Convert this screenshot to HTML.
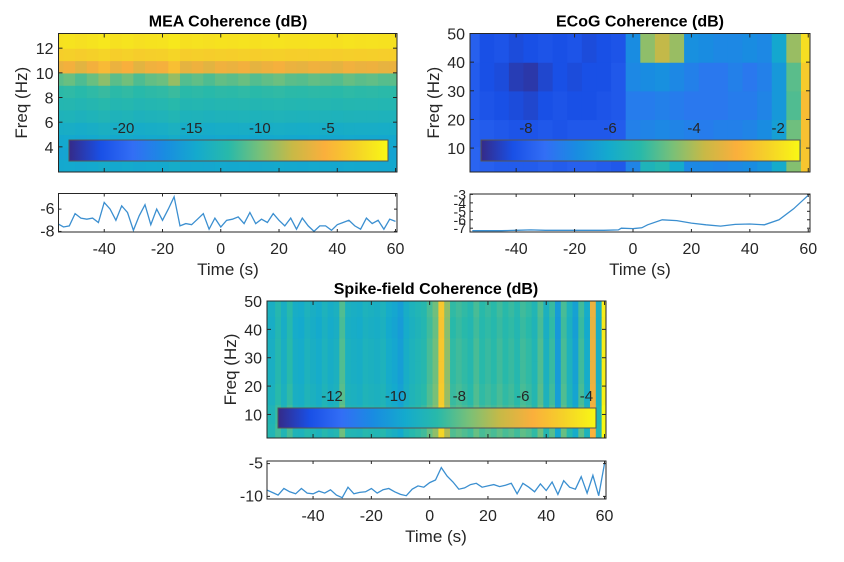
<!DOCTYPE html>
<html><head><meta charset="utf-8"><style>
html,body{margin:0;padding:0;background:#fff;}
svg{display:block;font-family:"Liberation Sans",sans-serif;}
</style></head><body>
<svg id="fig" width="844" height="562" viewBox="0 0 844 562" xmlns="http://www.w3.org/2000/svg">
<defs></defs>
</svg>
<script>
// ---------- DATA ----------
const meaFreqs = [2.5,3.5,4.5,5.5,6.5,7.5,8.5,9.5,10.5,11.5,12.5];
const meaRowDb = [-14.8,-15.2,-14.8,-14.2,-13.4,-12.8,-12.2,-10.8,-6.0,-3.2,-2.0];
const meaColTimes = [-56,-52,-48,-44,-40,-36,-32,-28,-24,-20,-16,-12,-8,-4,0,4,8,12,16,20,24,28,32,36,40,44,48,52,56,60];
const meaColDb = [0,0.5,-0.5,0.5,1.8,0,0.8,-0.5,0.3,0.6,2.2,-0.3,0.2,-0.5,0.3,0,0.5,-0.3,0.2,0.6,0,-0.2,0.3,0,-0.3,0.4,0,0.2,-0.2,0];
const meaLineTimes = [-56,-54,-52,-50,-48,-46,-44,-42,-40,-38,-36,-34,-32,-30,-28,-26,-24,-22,-20,-18,-16,-14,-12,-10,-8,-6,-4,-2,0,2,4,6,8,10,12,14,16,18,20,22,24,26,28,30,32,34,36,38,40,42,44,46,48,50,52,54,56,58,60];
const meaLineDb = [-7.3,-7.6,-7.5,-6.4,-6.8,-6.9,-6.8,-7.2,-5.4,-6.0,-7.0,-5.7,-6.3,-7.9,-6.6,-5.6,-7.4,-6.0,-7.0,-6.0,-4.9,-7.5,-7.3,-7.4,-6.9,-6.4,-7.8,-6.8,-7.6,-7.0,-6.9,-6.7,-7.3,-6.3,-7.3,-6.9,-7.2,-6.4,-7.0,-7.5,-6.8,-7.8,-6.8,-7.5,-8.0,-7.5,-7.5,-7.9,-7.4,-7.2,-7.0,-7.5,-7.8,-6.8,-7.3,-7.0,-7.8,-6.9,-7.1];

const ecogFreqs = [6,15,25,35,45];
const ecogTimes = [-55,-50,-45,-40,-35,-30,-25,-20,-15,-10,-5,0,5,10,15,20,25,30,35,40,45,50,55,60];
const ecogDb = [
 [-7.8,-7.9,-8.0,-8.0,-8.0,-7.9,-8.0,-7.9,-7.9,-8.0,-8.1,-7.0,-5.6,-5.4,-6.0,-6.9,-6.9,-7.0,-6.9,-6.8,-6.6,-6.0,-4.4,-2.5],
 [-7.9,-8.0,-8.1,-8.2,-8.2,-8.1,-8.2,-8.1,-8.1,-8.1,-8.0,-7.1,-7.0,-6.9,-7.0,-7.1,-7.2,-7.1,-7.1,-7.0,-6.8,-6.3,-4.6,-2.6],
 [-8.0,-8.2,-8.3,-8.4,-8.5,-8.3,-8.2,-8.3,-8.3,-8.2,-8.1,-7.2,-7.2,-7.1,-7.2,-7.3,-7.3,-7.3,-7.2,-7.2,-7.0,-6.5,-4.9,-2.7],
 [-8.0,-8.3,-8.4,-8.7,-8.8,-8.5,-8.3,-8.4,-8.3,-8.3,-8.1,-6.9,-6.8,-6.7,-6.9,-7.1,-7.3,-7.3,-7.1,-7.3,-7.1,-6.5,-4.8,-2.4],
 [-7.9,-8.3,-8.2,-8.4,-8.3,-8.2,-8.3,-8.2,-8.4,-8.3,-8.2,-6.8,-4.3,-3.8,-4.2,-6.7,-6.8,-6.9,-6.9,-6.8,-6.9,-6.1,-4.2,-2.0]];
const ecogLineTimes = [-55,-50,-45,-40,-35,-30,-25,-20,-15,-10,-5,-4,0,3,5,10,15,20,25,30,35,40,45,50,55,60];
const ecogLineDb = [-7.3,-7.3,-7.3,-7.25,-7.2,-7.25,-7.25,-7.25,-7.25,-7.25,-7.2,-7.0,-7.05,-6.95,-6.6,-6.0,-6.1,-6.4,-6.6,-6.75,-6.55,-6.5,-6.6,-6.0,-4.7,-3.1];

const sfcFreqs = [4,10,17,25,33,41,48];
const sfcRowDb = [0.4,0.3,0.1,0,0,-0.1,0];
const sfcColTimes = [-56,-54,-52,-50,-48,-46,-44,-42,-40,-38,-36,-34,-32,-30,-28,-26,-24,-22,-20,-18,-16,-14,-12,-10,-8,-6,-4,-2,0,2,4,6,8,10,12,14,16,18,20,22,24,26,28,30,32,34,36,38,40,42,44,46,48,50,52,54,56,58,60];
const sfcColDb = [-9.2,-9.4,-8.8,-9.4,-8.7,-9.5,-9.6,-9.2,-9.4,-9.6,-9.2,-9.5,-9.3,-8.2,-9.3,-9.4,-9.5,-9.2,-9.3,-9.4,-9.2,-9.6,-9.8,-10.1,-9.5,-9.2,-9.0,-8.8,-8.3,-7.8,-5.0,-7.4,-8.6,-8.4,-8.6,-8.8,-8.3,-8.7,-8.5,-8.7,-8.4,-8.7,-8.5,-8.8,-8.4,-8.6,-9.0,-8.2,-9.3,-8.5,-10.2,-8.3,-9.2,-10.0,-8.4,-9.6,-6.0,-9.4,-4.0];
const sfcLineTimes = sfcColTimes;
const sfcLineDb = [-9.0,-9.4,-9.8,-8.8,-9.3,-9.6,-8.8,-9.5,-9.6,-9.2,-9.5,-9.0,-9.8,-10.2,-8.6,-9.6,-9.4,-9.3,-8.8,-9.5,-9.0,-8.8,-9.3,-9.7,-9.9,-8.9,-8.4,-8.6,-7.9,-7.5,-5.6,-6.9,-7.8,-8.9,-8.7,-8.2,-8.0,-8.6,-8.4,-8.2,-8.5,-8.3,-8.0,-9.6,-8.0,-8.6,-9.3,-8.1,-9.1,-7.8,-9.7,-7.6,-8.6,-8.9,-7.0,-9.5,-6.8,-9.9,-5.0];

const timeTicks = [-40,-20,0,20,40,60];

const parula = [[0,53,42,135],[0.1,25,80,230],[0.2,50,110,245],[0.3,25,140,225],[0.4,20,170,205],[0.5,40,185,170],[0.6,120,192,120],[0.7,200,185,70],[0.8,250,175,60],[0.9,245,210,40],[1,248,248,20]];
function cmap(v){v=Math.max(0,Math.min(1,v));for(let i=1;i<parula.length;i++){if(v<=parula[i][0]){const a=parula[i-1],b=parula[i];const f=(v-a[0])/(b[0]-a[0]);return 'rgb('+[1,2,3].map(k=>Math.round(a[k]+(b[k]-a[k])*f)).join(',')+')';}}return 'rgb(248,248,20)';}

const NS='http://www.w3.org/2000/svg';
const fig=document.getElementById('fig');
const defs=fig.querySelector('defs');
function mk(tag,attrs,parent){const e=document.createElementNS(NS,tag);for(const k in attrs)e.setAttribute(k,attrs[k]);(parent||fig).appendChild(e);return e;}
const AX='#262626';

function panel(p){
  const g=mk('g',{});
  
  
  const xs=t=>p.L+(t-p.t0)/(p.t1-p.t0)*(p.R-p.L);
  const ys=f=>p.hB-(f-p.f0)/(p.f1-p.f0)*(p.hB-p.hT);
  const cs=v=>(v-p.c0)/(p.c1-p.c0);
  const cp=mk('clipPath',{id:p.id+'clip'},defs);
  mk('rect',{x:p.L,y:p.hT,width:p.R-p.L,height:p.hB-p.hT},cp);
  const hg=mk('g',{'clip-path':'url(#'+p.id+'clip)'},g);
  
  
  const nC=p.times.length,nR=p.freqs.length;
  for(let r=0;r<nR;r++){
    const fa=r===0?p.f0-1:(p.freqs[r-1]+p.freqs[r])/2, fb=r===nR-1?p.f1+1:(p.freqs[r]+p.freqs[r+1])/2;
    for(let c=0;c<nC;c++){
      const ta=c===0?p.t0-2:(p.times[c-1]+p.times[c])/2, tb=c===nC-1?p.t1+2:(p.times[c]+p.times[c+1])/2;
      const v=p.val(r,c);
      const cell=mk('rect',{x:xs(ta),y:ys(fb),width:xs(tb)-xs(ta)+0.6,height:ys(fa)-ys(fb)+0.6,fill:cmap(cs(v))},hg);
      
      
    }
  }
  const gid=p.id+'grad';
  const lg=mk('linearGradient',{id:gid,x1:0,x2:1,y1:0,y2:0},defs);
  for(let i=0;i<=20;i++)mk('stop',{offset:i/20,'stop-color':cmap(i/20)},lg);
  const cb=mk('rect',{x:p.cbL,y:p.cbT,width:p.cbR-p.cbL,height:p.cbB-p.cbT,fill:'url(#'+gid+')',stroke:'#555','stroke-width':1},g);
  
  
  p.cbTicks.forEach(v=>{
    const x=p.cbL+(v-p.c0)/(p.c1-p.c0)*(p.cbR-p.cbL);
    const t=mk('text',{x:x,y:p.cbT-7,'font-size':15,'text-anchor':'middle',fill:AX},g);t.textContent=v;
    
    
  });
  const box=mk('rect',{x:p.L,y:p.hT,width:p.R-p.L,height:p.hB-p.hT,fill:'none',stroke:AX,'stroke-width':1},g);
  
  
  timeTicks.forEach(t=>{const x=xs(t);mk('line',{x1:x,x2:x,y1:p.hB,y2:p.hB-4,stroke:AX},g);mk('line',{x1:x,x2:x,y1:p.hT,y2:p.hT+4,stroke:AX},g);});
  p.fTicks.forEach(f=>{const y=ys(f);mk('line',{x1:p.L,x2:p.L+4,y1:y,y2:y,stroke:AX},g);mk('line',{x1:p.R,x2:p.R-4,y1:y,y2:y,stroke:AX},g);
    const t=mk('text',{x:p.L-5,y:y+6,'font-size':16,'text-anchor':'end',fill:AX},g);t.textContent=f;
    
    });
  const yl=mk('text',{x:0,y:0,'font-size':17,'text-anchor':'middle',fill:AX,transform:'translate('+p.ylX+','+((p.hT+p.hB)/2)+') rotate(-90)'},g);yl.textContent='Freq (Hz)';
  
  
  const ti=mk('text',{x:p.titleX,y:p.hT-7,'font-size':16,'font-weight':'bold','text-anchor':'middle',fill:'#000'},g);ti.textContent=p.title;
  
  
  const ly=v=>p.lB-(v-p.l0)/(p.l1-p.l0)*(p.lB-p.lT);
  const cp2=mk('clipPath',{id:p.id+'clip2'},defs);
  mk('rect',{x:p.L,y:p.lT-1,width:p.R-p.L,height:p.lB-p.lT+2},cp2);
  const d=p.lTimes.map((t,i)=>(i?'L':'M')+xs(t).toFixed(1)+','+ly(p.lVals[i]).toFixed(1)).join('');
  const pl=mk('path',{d:d,fill:'none',stroke:'#3b8fd0','stroke-width':1.3,'clip-path':'url(#'+p.id+'clip2)'},g);
  
  
  const lb=mk('rect',{x:p.L,y:p.lT,width:p.R-p.L,height:p.lB-p.lT,fill:'none',stroke:AX,'stroke-width':1},g);
  
  
  timeTicks.forEach(t=>{const x=xs(t);mk('line',{x1:x,x2:x,y1:p.lB,y2:p.lB-3,stroke:AX},g);mk('line',{x1:x,x2:x,y1:p.lT,y2:p.lT+3,stroke:AX},g);
    const tx=mk('text',{x:x,y:p.lB+22,'font-size':16,'text-anchor':'middle',fill:AX},g);tx.textContent=t;
    
    });
  p.lTicks.forEach(v=>{const y=ly(v);mk('line',{x1:p.L,x2:p.L+3,y1:y,y2:y,stroke:AX},g);mk('line',{x1:p.R,x2:p.R-3,y1:y,y2:y,stroke:AX},g);
    const tx=mk('text',{x:p.L-4,y:y+5,'font-size':p.lFont||16,'text-anchor':'end',fill:AX},g);tx.textContent=v;
    
    });
  const xl=mk('text',{x:p.titleX,y:p.lB+43,'font-size':17,'text-anchor':'middle',fill:AX},g);xl.textContent='Time (s)';
  
  
}

panel({id:'mea',title:'MEA Coherence (dB)',titleX:228,L:58.5,R:397,hT:33.5,hB:172,t0:-55.7,t1:60.5,f0:1.96,f1:13.19,
  freqs:meaFreqs,times:meaColTimes,val:(r,c)=>meaRowDb[r]+meaColDb[c]*(r>=7&&r<=8?0.8:0.2),
  c0:-24,c1:-0.6,cbL:69,cbR:388,cbT:140,cbB:161,cbTicks:[-20,-15,-10,-5],fTicks:[4,6,8,10,12],ylX:27,
  lT:193.5,lB:232,l0:-8.05,l1:-4.6,lTimes:meaLineTimes,lVals:meaLineDb,lTicks:[-8,-6]});
panel({id:'ecog',title:'ECoG Coherence (dB)',titleX:640,L:470,R:810,hT:33.5,hB:172,t0:-55.8,t1:60.6,f0:1.65,f1:50,
  freqs:ecogFreqs,times:ecogTimes,val:(r,c)=>ecogDb[r][c],
  c0:-9.07,c1:-1.48,cbL:481,cbR:800,cbT:140,cbB:161,cbTicks:[-8,-6,-4,-2],fTicks:[10,20,30,40,50],ylX:439,
  lT:194,lB:232,l0:-7.45,l1:-2.95,lTimes:ecogLineTimes,lVals:ecogLineDb,lTicks:[-7,-6,-5,-4,-3],lFont:14});
panel({id:'sfc',title:'Spike-field Coherence (dB)',titleX:436,L:267,R:606,hT:301,hB:438,t0:-55.8,t1:60.5,f0:1.7,f1:50,
  freqs:sfcFreqs,times:sfcColTimes,val:(r,c)=>sfcColDb[c]+sfcRowDb[r],
  c0:-13.7,c1:-3.7,cbL:278,cbR:596,cbT:408,cbB:428,cbTicks:[-12,-10,-8,-6,-4],fTicks:[10,20,30,40,50],ylX:236,
  lT:461,lB:499,l0:-10.4,l1:-4.6,lTimes:sfcLineTimes,lVals:sfcLineDb,lTicks:[-10,-5]});
</script>
</body></html>
